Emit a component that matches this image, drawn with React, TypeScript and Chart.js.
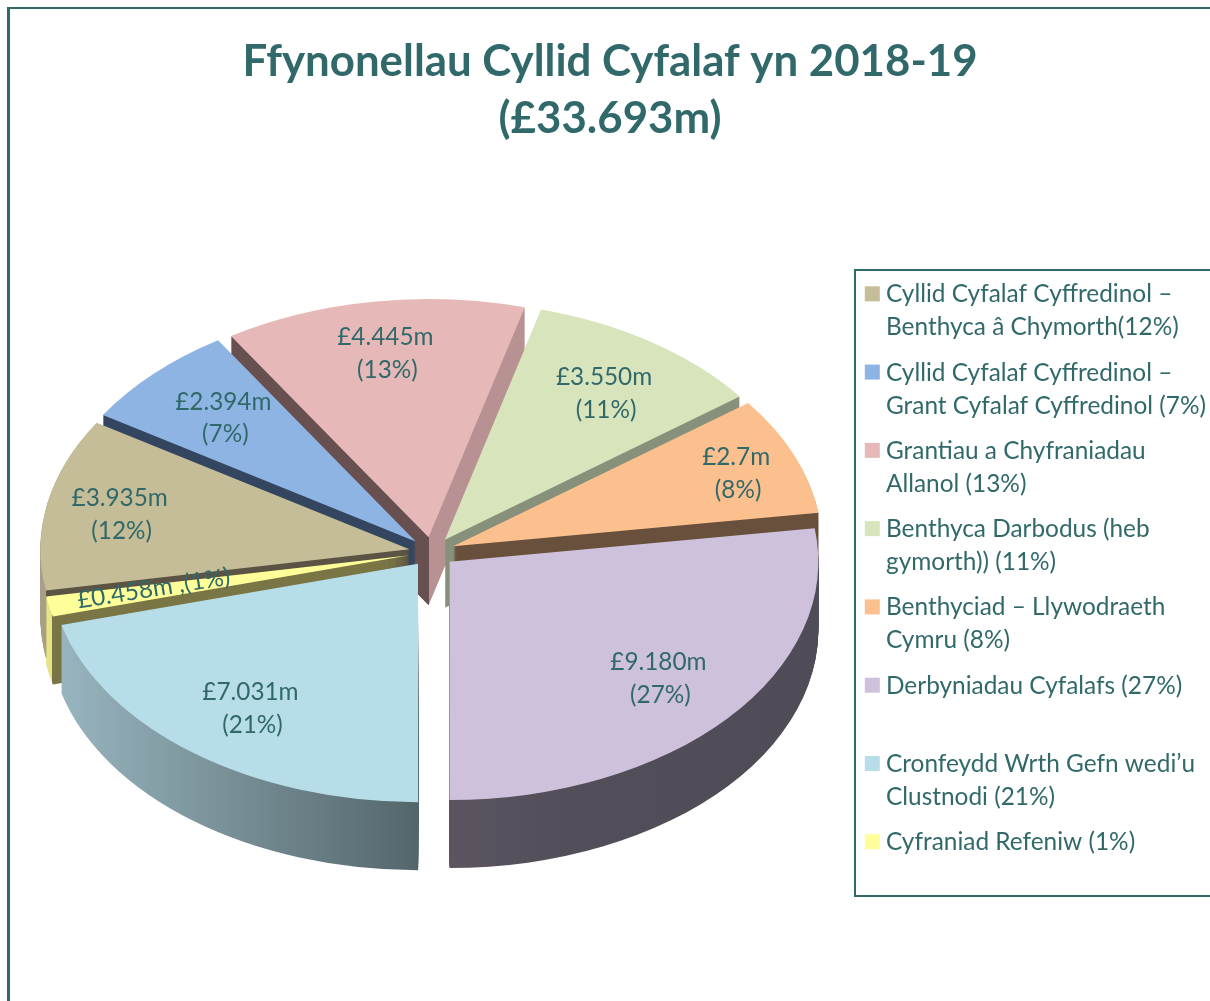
import React, { useEffect, useRef } from "react";
import { Chart, registerables } from "chart.js";

Chart.register(...registerables);

const categories = [
  "Cyllid Cyfalaf Cyffredinol – Benthyca â Chymorth(12%)",
  "Cyllid Cyfalaf Cyffredinol – Grant Cyfalaf Cyffredinol (7%)",
  "Grantiau a Chyfraniadau Allanol (13%)",
  "Benthyca Darbodus (heb gymorth)) (11%)",
  "Benthyciad – Llywodraeth Cymru (8%)",
  "Derbyniadau Cyfalafs (27%)",
  "Cronfeydd Wrth Gefn wedi’u Clustnodi (21%)",
  "Cyfraniad Refeniw (1%)",
];
const legendLines = [
  ["Cyllid Cyfalaf Cyffredinol –", "Benthyca â Chymorth(12%)"],
  ["Cyllid Cyfalaf Cyffredinol –", "Grant Cyfalaf Cyffredinol (7%)"],
  ["Grantiau a Chyfraniadau", "Allanol (13%)"],
  ["Benthyca Darbodus (heb", "gymorth)) (11%)"],
  ["Benthyciad – Llywodraeth", "Cymru (8%)"],
  ["Derbyniadau Cyfalafs (27%)", ""],
  ["Cronfeydd Wrth Gefn wedi’u", "Clustnodi (21%)"],
  ["Cyfraniad Refeniw (1%)", ""],
];
const values = [3.935, 2.394, 4.445, 3.55, 2.7, 9.18, 7.031, 0.458];
const amountLabels = ["£3.935m", "£2.394m", "£4.445m", "£3.550m", "£2.7m", "£9.180m", "£7.031m", "£0.458m ,(1%)"];
const percentLabels = ["(12%)", "(7%)", "(13%)", "(11%)", "(8%)", "(27%)", "(21%)", ""];
const sliceColors = ["#c4bd97", "#8eb4e3", "#e6b9b8", "#d8e4bc", "#fcc08f", "#cec1db", "#b7dee8", "#ffff99"];
const wallStops: [number, string][][] = [
  [[0, "#a89f86"], [0.008, "#a89f86"], [0.008, "#5b5343"], [1, "#5b5343"]],
  [[0, "#34465f"], [1, "#34465f"]],
  [[0, "#67504f"], [0.5, "#67504f"], [0.5, "#b89292"], [1, "#b89292"]],
  [[0, "#87907a"], [1, "#87907a"]],
  [[0, "#69503c"], [1, "#69503c"]],
  [[0, "#5c5560"], [0.5, "#5c5560"], [0.65, "#524e5a"], [1, "#4f4c58"]],
  [[0, "#9ab7c1"], [0.5, "#54666c"], [1, "#54666c"]],
  [[0, "#e6e388"], [0.0155, "#e6e388"], [0.0155, "#7a7545"], [1, "#7a7545"]],
];
const labelRadius = [0.8, 0.735, 0.78, 0.77, 0.83, 0.75, 0.745, 0.71];
const labelNudgeY = [2, 0, 0, 6, 3, 0, 4, -3];
const labelTilt = [0, 0, 0, 0, 0, 0, 0, -9];

const TEXT = "#31696b";
const FONT = "Lato";
const CENTER_X = 432;
const CENTER_Y = 552;
const TILT = 0.646;
const EXPLODE = 23;
const DEPTH = 68;
const RADIUS = 369;
const LABEL_SIZE = 24.3;
const LINE_GAP = 32.5;

const pie3d = {
  id: "pie3d",
  beforeDatasetsDraw(chart: any) {
    const ctx = chart.ctx;
    const arcs = chart.getDatasetMeta(0).data as any[];
    const mid = (a: any) => (a.startAngle + a.endAngle) / 2;
    const order = arcs.map((_, i) => i).sort((p, q) => Math.sin(mid(arcs[p])) - Math.sin(mid(arcs[q])));

    for (const i of order) {
      const arc = arcs[i];
      const m = mid(arc);
      const sx = CENTER_X + Math.cos(m) * EXPLODE;
      const sy = CENTER_Y + Math.sin(m) * EXPLODE * TILT;
      const base = arc.options;
      const grad = ctx.createLinearGradient(arc.x - RADIUS, 0, arc.x + RADIUS, 0);
      wallStops[i].forEach(([f, c]) => grad.addColorStop(f, c));

      arc.options = { ...base, backgroundColor: grad };
      for (let d = DEPTH; d >= 1; d--) {
        ctx.save();
        ctx.translate(sx, sy + d);
        ctx.scale(1, TILT);
        ctx.translate(-arc.x, -arc.y);
        arc.draw(ctx);
        ctx.restore();
      }
      arc.options = base;
      ctx.save();
      ctx.translate(sx, sy);
      ctx.scale(1, TILT);
      ctx.translate(-arc.x, -arc.y);
      arc.draw(ctx);
      ctx.restore();
    }

    arcs.forEach((arc, i) => {
      const m = mid(arc);
      const sx = CENTER_X + Math.cos(m) * EXPLODE;
      const sy = CENTER_Y + Math.sin(m) * EXPLODE * TILT;
      const lx = sx + Math.cos(m) * RADIUS * labelRadius[i];
      const ly = sy + Math.sin(m) * RADIUS * TILT * labelRadius[i] + labelNudgeY[i];
      ctx.save();
      ctx.font = `${LABEL_SIZE}px ${FONT}`;
      ctx.fillStyle = TEXT;
      ctx.textAlign = "center";
      ctx.textBaseline = "middle";
      ctx.translate(lx, ly);
      ctx.rotate((labelTilt[i] * Math.PI) / 180);
      if (percentLabels[i]) {
        ctx.fillText(amountLabels[i], 0, -LINE_GAP / 2);
        ctx.fillText(percentLabels[i], 2, LINE_GAP / 2);
      } else {
        ctx.fillText(amountLabels[i], 0, 0);
      }
      ctx.restore();
    });
    return false;
  },
  afterDraw(chart: any) {
    const ctx = chart.ctx;
    ctx.save();
    ctx.fillStyle = TEXT;
    ctx.fillRect(7, 7, 1203, 2);
    ctx.fillRect(7, 7, 3, 994);
    ctx.strokeStyle = TEXT;
    ctx.lineWidth = 2;
    ctx.beginPath();
    ctx.moveTo(1210, 270);
    ctx.lineTo(855, 270);
    ctx.lineTo(855, 896);
    ctx.lineTo(1210, 896);
    ctx.stroke();
    chart.legend.legendHitBoxes.forEach((h: any, i: number) => {
      ctx.fillStyle = sliceColors[i];
      ctx.fillRect(h.left + 7, h.top + 4, 15, 15);
    });
    ctx.restore();
  },
};

export default function App() {
  const ref = useRef<HTMLCanvasElement>(null);
  useEffect(() => {
    const chart = new Chart(ref.current as HTMLCanvasElement, {
      type: "pie",
      data: {
        labels: categories,
        datasets: [
          {
            data: values,
            backgroundColor: sliceColors,
            borderWidth: 0,
            radius: RADIUS,
          } as any,
        ],
      },
      plugins: [pie3d],
      options: {
        responsive: false,
        animation: false,
        events: [],
        rotation: -100,
        layout: { padding: { left: 4, right: -6, top: 0, bottom: 0 } },
        plugins: {
          tooltip: { enabled: false },
          title: {
            display: true,
            text: ["Ffynonellau Cyllid Cyfalaf yn 2018-19", "(£33.693m)"],
            color: TEXT,
            font: { family: FONT, size: 43.8, weight: "bold", lineHeight: 1.3 },
            padding: { top: 33, bottom: 130 },
          },
          legend: {
            position: "right",
            align: "start",
            title: { display: true, text: " ", padding: { top: 255.6, bottom: 0 } },
            labels: {
              boxWidth: 16,
              boxHeight: 16,
              padding: 12.3,
              color: TEXT,
              font: { family: FONT, size: 24.4, lineHeight: 1.352 },
              generateLabels: () =>
                legendLines.map((lines, i) => ({
                  text: lines[1] ? lines : [lines[0], " "],
                  fillStyle: "rgba(0,0,0,0)",
                  strokeStyle: "rgba(0,0,0,0)",
                  lineWidth: 0,
                  index: i,
                  fontColor: TEXT,
                })) as any,
            },
          },
        },
      } as any,
    });
    return () => chart.destroy();
  }, []);
  return (
    <div style={{ position: "absolute", left: 0, top: 0 }}>
      <canvas ref={ref} width={1210} height={1001} style={{ display: "block" }} />
    </div>
  );
}
